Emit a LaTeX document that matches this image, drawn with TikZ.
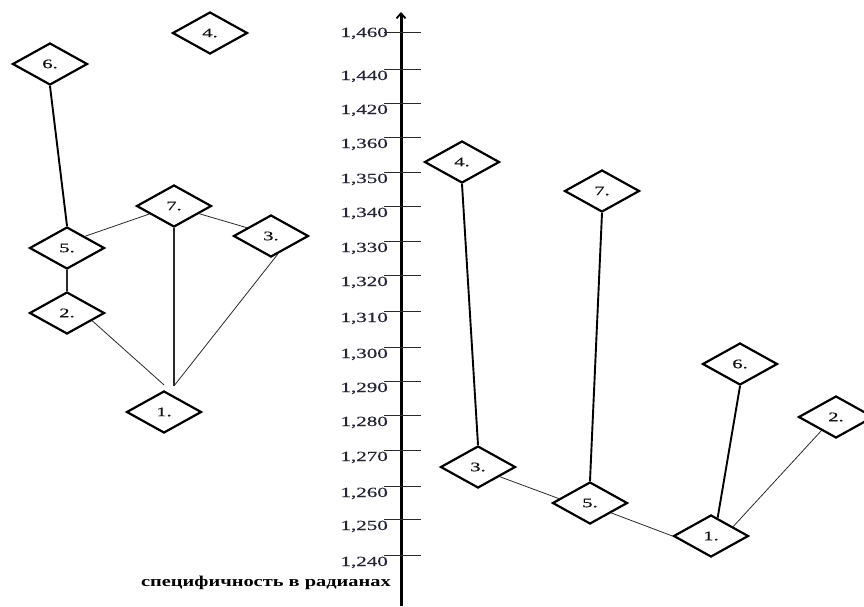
\documentclass[tikz,border=0pt]{standalone}
\usepackage{fontspec}
\usetikzlibrary{shapes.geometric,arrows.meta}
\newfontfamily\labfont[FakeStretch=1.5,FakeBold=0.6]{Liberation Serif}
\newfontfamily\diafont[FakeStretch=1.6,FakeBold=0.6]{Liberation Serif}
\newfontfamily\capfont[FakeStretch=1.36]{Liberation Serif}
\definecolor{ink}{HTML}{141414}
\definecolor{labc}{HTML}{262636}
\definecolor{edgec}{HTML}{2A2A2A}
\begin{document}
\begin{tikzpicture}[x=1pt,y=-1pt,
  dia/.style={draw=black,line width=2.2pt,shape=diamond,minimum width=75pt,minimum height=42pt,
    inner sep=0pt,fill=white,text=ink,font=\diafont\fontsize{13}{13}\selectfont},
  ethin/.style={draw=edgec,line width=0.8pt},
  emid/.style={draw=edgec,line width=1.2pt},
  ethick/.style={draw=black,line width=1.9pt},
  axisline/.style={draw=black,line width=3pt,-{Straight Barb[length=5pt,width=9pt,line width=1.8pt]}},
  tickline/.style={draw=edgec,line width=0.9pt},
  lbl/.style={inner sep=0pt,text=labc,font=\labfont\fontsize{14}{14}\selectfont},
  captext/.style={inner sep=0pt,text=black,font=\capfont\bfseries\fontsize{15}{15}\selectfont}]
\useasboundingbox[fill=white] (0,0) rectangle (864,606);

% axis
\coordinate (abot) at (401,606);
\coordinate (atop) at (401,12);
\draw[axisline] (abot) -- (atop);
\foreach \y/\d/\t in {32/5/{1,460},69/11/{1,440},103/11/{1,420},137/11/{1,360},172/11/{1,350},
  206/11/{1,340},241/11/{1,330},275/11/{1,320},311/11/{1,310},347/11/{1,300},381/11/{1,290},
  415/11/{1,280},450/11/{1,270},486/11/{1,260},519/11/{1,250},555/11/{1,240}}{
  \draw[tickline] (384,\y) -- (421,\y);
  \node[lbl,anchor=base east] (t\y) at (388,\y+\d) {\t};
}
\node[captext,anchor=base east] (caption) at (391,586) {специфичность в радианах};

% left group
\node[dia] (L4) at (210,33) {4.};
\node[dia] (L6) at (50,64) {6.};
\node[dia] (L7) at (174,206) {7.};
\node[dia] (L3) at (271,236) {3.};
\node[dia] (L5) at (67,248) {5.};
\node[dia] (L2) at (67,313) {2.};
\node[dia] (L1) at (164,412) {1.};
\coordinate (Lj) at ([xshift=10pt,yshift=4pt]L1.north);
\coordinate (Lk) at ([yshift=5pt]L1.north);
\draw[ethick] (L6.south) -- (L5.north);
\draw[emid] (L5.south) -- (L2.north);
\draw[ethin] (L5.33) -- (L7.198);
\draw[ethin] (L7.-17) -- (L3.161);
\draw[emid] (L7.south) -- (L7.south |- Lj);
\draw[ethin] (L3.-70) -- (Lj);
\draw[ethin] (L2.-17) -- (Lk);

% right group
\node[dia] (R4) at (462,162) {4.};
\node[dia] (R7) at (602,191) {7.};
\node[dia] (R6) at (740,364) {6.};
\node[dia] (R2) at (836,417) {2.};
\node[dia] (R3) at (478,467) {3.};
\node[dia] (R5) at (590,503) {5.};
\node[dia] (R1) at (711,536) {1.};
\draw[ethick] (R4.south) -- (R3.north);
\draw[ethick] (R7.south) -- (R5.north);
\draw[ethin] (R3.-24) -- (R5.172);
\draw[ethin] (R5.-25) -- (R1.west);
\draw[ethick] (R6.south) -- (R1.70);
\draw[ethin] (R2.223) -- (R1.23);
\end{tikzpicture}
\end{document}
